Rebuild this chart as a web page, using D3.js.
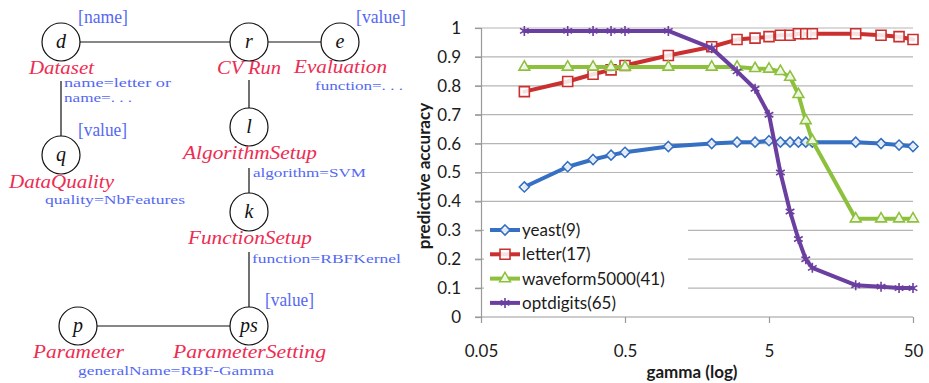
<!DOCTYPE html>
<html>
<head>
<meta charset="utf-8">
<script src="https://cdn.jsdelivr.net/npm/d3@7"></script>
<style>
  body { margin: 0; background: #fff; }
  svg { display: block; }
</style>
</head>
<body>
<svg id="fig" width="929" height="383"></svg>
<script>
// ---------------- chart data: SVM accuracy vs. RBF gamma ----------------
const gammaValues = [0.1, 0.2, 0.3, 0.4, 0.5, 1, 2, 3, 4, 5, 6, 7, 8, 9, 10, 20, 30, 40, 50];
const seriesNames = ["yeast(9)", "letter(17)", "waveform5000(41)", "optdigits(65)"];
const yeastAcc     = [0.45, 0.52, 0.545, 0.56, 0.57, 0.59, 0.60, 0.605, 0.605, 0.61, 0.605, 0.605, 0.605, 0.605, 0.605, 0.605, 0.60, 0.595, 0.59];
const letterAcc    = [0.78, 0.815, 0.84, 0.855, 0.87, 0.905, 0.935, 0.96, 0.965, 0.97, 0.975, 0.975, 0.98, 0.98, 0.98, 0.98, 0.975, 0.97, 0.96];
const waveformAcc  = [0.865, 0.865, 0.865, 0.865, 0.865, 0.865, 0.865, 0.865, 0.86, 0.858, 0.85, 0.83, 0.77, 0.68, 0.61, 0.34, 0.34, 0.34, 0.34];
const optdigitsAcc = [0.99, 0.99, 0.99, 0.99, 0.99, 0.99, 0.93, 0.85, 0.79, 0.70, 0.50, 0.365, 0.27, 0.20, 0.17, 0.11, 0.105, 0.10, 0.10];
const yTickValues = [0, 0.1, 0.2, 0.3, 0.4, 0.5, 0.6, 0.7, 0.8, 0.9, 1];
const xTickValues = [0.05, 0.5, 5, 50];
const xTickLabels = ["0.05", "0.5", "5", "50"];

// ---------------- experiment-query diagram text ----------------
const nodeIds    = ["d", "r", "e", "q", "l", "k", "p", "ps"];
const nodeNames  = ["Dataset", "CV Run", "Evaluation", "DataQuality", "AlgorithmSetup", "FunctionSetup", "Parameter", "ParameterSetting"];
const edgeList   = [["d", "r"], ["r", "e"], ["d", "q"], ["r", "l"], ["l", "k"], ["k", "ps"], ["p", "ps"]];
const attrLines  = ["name=letter or", "name=. . .", "function=. . .", "quality=NbFeatures", "algorithm=SVM", "function=RBFKernel", "generalName=RBF-Gamma"];
const tagLabels  = ["[name]", "[value]", "[value]", "[value]"];

const svg = d3.select("#fig");
const RED = "#ee2c52", BLUE = "#5468f2";
const SERIF = "'Liberation Serif', 'DejaVu Serif', serif";

// ===== diagram =====
const nodePos = {
  d: [61, 42], r: [249, 42], e: [340, 42], q: [61, 155],
  l: [249, 127], k: [249, 212], p: [78, 326], ps: [249, 326]
};
const R = 19;
// name label layout: [x, baseline, width]
const namePos = {
  d: [29, 74, 65], r: [217, 74, 64], e: [294, 73, 93], q: [9, 188, 105],
  l: [183, 159, 134], k: [188, 244, 124], p: [33, 358, 91], ps: [173, 358, 153]
};
const attrPos = [[64, 86.5, 107], [64, 101.5, 68], [315, 90, 88], [45, 204, 140], [253, 176.5, 113], [252, 263, 149], [78, 375, 196]];
const tagPos  = [[78, 23, 50], [356, 23, 50], [78, 136, 49], [265, 306, 49]];
// vertical edges start below the label block of the upper node
const edgeStart = { "d-q": 81, "r-l": 80, "l-k": 168, "k-ps": 252 };

const dg = svg.append("g").attr("class", "diagram");

dg.selectAll("line.edge").data(edgeList).join("line")
  .attr("class", "edge")
  .attr("stroke", "#111").attr("stroke-width", 1.2)
  .each(function([a, b]) {
    const [ax, ay] = nodePos[a], [bx, by] = nodePos[b];
    const sel = d3.select(this);
    if (ay === by) {
      sel.attr("x1", ax + R).attr("y1", ay).attr("x2", bx - R).attr("y2", by);
    } else {
      sel.attr("x1", ax).attr("y1", edgeStart[a + "-" + b]).attr("x2", bx).attr("y2", by - R);
    }
  });

const ng = dg.selectAll("g.node").data(nodeIds).join("g")
  .attr("class", "node")
  .attr("transform", d => `translate(${nodePos[d][0]},${nodePos[d][1]})`);
ng.append("circle").attr("r", R).attr("fill", "#fff").attr("stroke", "#111").attr("stroke-width", 1.2);
ng.append("text")
  .attr("text-anchor", "middle").attr("dy", "0.32em")
  .attr("font-family", SERIF).attr("font-style", "italic").attr("font-size", 20)
  .attr("fill", "#111")
  .text(d => d);

dg.selectAll("text.name").data(nodeIds).join("text")
  .attr("class", "name")
  .attr("x", d => namePos[d][0]).attr("y", d => namePos[d][1])
  .attr("textLength", d => namePos[d][2]).attr("lengthAdjust", "spacingAndGlyphs")
  .attr("font-family", SERIF).attr("font-style", "italic").attr("font-size", 18)
  .attr("fill", RED)
  .text((d, i) => nodeNames[i]);

dg.selectAll("text.attr").data(attrLines).join("text")
  .attr("class", "attr")
  .attr("x", (d, i) => attrPos[i][0]).attr("y", (d, i) => attrPos[i][1])
  .attr("textLength", (d, i) => attrPos[i][2]).attr("lengthAdjust", "spacingAndGlyphs")
  .attr("font-family", SERIF).attr("font-size", 13)
  .attr("fill", BLUE)
  .text(d => d);

dg.selectAll("text.tag").data(tagLabels).join("text")
  .attr("class", "tag")
  .attr("x", (d, i) => tagPos[i][0]).attr("y", (d, i) => tagPos[i][1])
  .attr("textLength", (d, i) => tagPos[i][2]).attr("lengthAdjust", "spacingAndGlyphs")
  .attr("font-family", SERIF).attr("font-size", 18)
  .attr("fill", BLUE)
  .text(d => d);

// ===== accuracy chart =====
const FONT = "Lato, 'Open Sans', sans-serif";
const x = d3.scaleLog().domain([0.05, 50]).range([481, 913]);
const y = d3.scaleLinear().domain([0, 1]).range([317, 28]);

const cg = svg.append("g").attr("class", "chart");

// horizontal gridlines (with short ticks left of the axis)
cg.selectAll("line.grid").data(yTickValues.filter(v => v > 0)).join("line")
  .attr("class", "grid")
  .attr("x1", x.range()[0] - 6).attr("x2", x.range()[1])
  .attr("y1", d => y(d)).attr("y2", d => y(d))
  .attr("stroke", "#b5b5b5").attr("stroke-width", 1.2);

// y axis
const yAxis = d3.axisLeft(y).tickValues(yTickValues).tickSize(6).tickPadding(14)
  .tickFormat(d => String(d));
const yg = cg.append("g").attr("transform", `translate(${x.range()[0]},0)`).call(yAxis);
yg.select(".domain").attr("stroke", "#999").attr("stroke-width", 1.2);
yg.selectAll(".tick line").attr("stroke", "#999").attr("stroke-width", 1.2);
yg.selectAll(".tick text").attr("font-family", FONT).attr("font-size", 17).attr("fill", "#1b1b1b");

// x axis
const xAxis = d3.axisBottom(x).tickValues(xTickValues).tickSize(6).tickPadding(22)
  .tickFormat((d, i) => xTickLabels[i]);
const xg = cg.append("g").attr("transform", `translate(0,${y(0)})`).call(xAxis);
xg.select(".domain").attr("stroke", "#999").attr("stroke-width", 1.2)
  .attr("d", `M${x.range()[0] - 6},0H${x.range()[1]}`);
xg.selectAll(".tick line").attr("stroke", "#999").attr("stroke-width", 1.2);
xg.selectAll(".tick text").attr("font-family", FONT).attr("font-size", 17).attr("fill", "#1b1b1b");

// axis titles
cg.append("text")
  .attr("transform", "translate(430,176) rotate(-90)")
  .attr("text-anchor", "middle")
  .attr("font-family", FONT).attr("font-weight", 700).attr("font-size", 17).attr("fill", "#1b1b1b")
  .text("predictive accuracy");
cg.append("text")
  .attr("x", 692).attr("y", 378)
  .attr("text-anchor", "middle")
  .attr("font-family", FONT).attr("font-weight", 700).attr("font-size", 17).attr("fill", "#1b1b1b")
  .text("gamma (log)");

// series
const seriesValues = [yeastAcc, letterAcc, waveformAcc, optdigitsAcc];
const seriesColors = ["#3570c2", "#c9302f", "#8dc13d", "#6b3fa0"];
const seriesSymbols = [
  d3.symbol().type(d3.symbolDiamond2).size(64),
  d3.symbol().type(d3.symbolSquare).size(100),
  d3.symbol().type(d3.symbolTriangle).size(50),
  d3.symbol().type(d3.symbolAsterisk).size(70)
];
const series = seriesNames.map((name, i) => ({
  name, color: seriesColors[i], symbol: seriesSymbols[i],
  points: gammaValues.map((g, j) => ({ g, v: seriesValues[i][j] }))
}));

// legend box covers the lower gridlines
const legend = cg.append("g").attr("class", "legend");
legend.append("rect")
  .attr("x", 484).attr("y", 211).attr("width", 204).attr("height", 102)
  .attr("fill", "#fff");

const lineGen = d3.line().x(d => x(d.g)).y(d => y(d.v));

series.forEach(s => {
  const g = cg.append("g").attr("class", "series");
  g.append("path").datum(s.points)
    .attr("d", lineGen)
    .attr("fill", "none").attr("stroke", s.color).attr("stroke-width", 4)
    .attr("stroke-linejoin", "round").attr("stroke-linecap", "round");
  g.selectAll("path.marker").data(s.points).join("path")
    .attr("class", "marker")
    .attr("transform", d => `translate(${x(d.g)},${y(d.v)})`)
    .attr("d", s.symbol())
    .attr("fill", "#fff").attr("fill-opacity", 0.85)
    .attr("stroke", s.color).attr("stroke-width", 1.6);
});

// legend entries
const rows = legend.selectAll("g.row").data(series).join("g")
  .attr("class", "row")
  .attr("transform", (d, i) => `translate(0,${230 + i * 24.3})`);
rows.append("line")
  .attr("x1", 490).attr("x2", 520).attr("y1", 0).attr("y2", 0)
  .attr("stroke", d => d.color).attr("stroke-width", 4);
rows.append("path")
  .attr("transform", "translate(505,0)")
  .attr("d", d => d.symbol())
  .attr("fill", "#fff").attr("fill-opacity", 0.85)
  .attr("stroke", d => d.color).attr("stroke-width", 1.6);
rows.append("text")
  .attr("x", 522).attr("dy", "0.35em")
  .attr("font-family", FONT).attr("font-size", 17).attr("fill", "#1b1b1b")
  .text(d => d.name);
</script>
</body>
</html>
